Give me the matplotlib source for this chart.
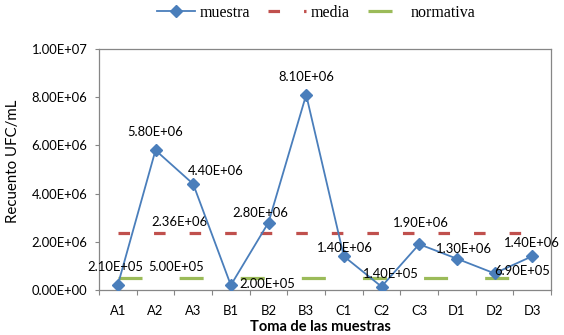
import matplotlib
matplotlib.use("Agg")
import matplotlib.pyplot as plt
import numpy as np
from matplotlib.ticker import FuncFormatter, FixedLocator

plt.rcParams['lines.scale_dashes'] = False

categorias = ["A1", "A2", "A3", "B1", "B2", "B3", "C1", "C2", "C3", "D1", "D2", "D3"]
muestra = [2.1e5, 5.8e6, 4.4e6, 2.0e5, 2.8e6, 8.1e6, 1.4e6, 1.4e5, 1.9e6, 1.3e6, 6.9e5, 1.4e6]
media = 2.36e6
normativa = 5.0e5
etiquetas = ["2.10E+05", "5.80E+06", "4.40E+06", "2.00E+05", "2.80E+06", "8.10E+06",
             "1.40E+06", "1.40E+05", "1.90E+06", "1.30E+06", "6.90E+05", "1.40E+06"]
etiqueta_media = "2.36E+06"
etiqueta_normativa = "5.00E+05"

BLUE = "#4A7EBB"
RED = "#C0504D"
GREEN = "#9BBB59"
GRAY = "#868686"
SANS = "Lato"
SERIF = "Liberation Serif"
FS = 9.4

fig = plt.figure(figsize=(5.64, 3.35), dpi=100)
ax = fig.add_axes([99/564, 1-290/335, (551-99)/564, (290-49)/335])

x = np.arange(len(categorias))
ax.plot(x, muestra, color=BLUE, lw=1.3, marker="D", markersize=6,
        markerfacecolor=BLUE, markeredgecolor=BLUE, label="muestra", zorder=4)
ax.plot(x, np.full(len(x), media), color=RED, lw=2.3,
        linestyle=(0, (8.3, 17.3)), label="media", zorder=3)
ax.plot(x, np.full(len(x), normativa), color=GREEN, lw=2.3,
        linestyle=(0, (17.3, 26.7)), label="normativa", zorder=3)

ax.set_xlim(-0.5, len(x) - 0.5)
ax.set_ylim(0, 1e7)
ax.set_yticks(np.arange(0, 1.0e7 + 1, 2e6))
ax.yaxis.set_major_formatter(FuncFormatter(lambda v, p: f"{v:.2E}"))
ax.set_xticks(x)
ax.set_xticklabels(categorias)
ax.xaxis.set_minor_locator(FixedLocator(np.arange(-0.5, len(x), 1.0)))
ax.tick_params(axis="x", which="major", length=0, pad=10.5, labelsize=FS,
               labelcolor="#000000")
ax.tick_params(axis="x", which="minor", length=3.6, width=0.8, color=GRAY, direction="out")
ax.tick_params(axis="y", length=3, width=0.8, color=GRAY, pad=5.5, labelsize=FS)
for lab in ax.get_xticklabels() + ax.get_yticklabels():
    lab.set_fontfamily(SANS)
for s in ax.spines.values():
    s.set_color(GRAY)
    s.set_linewidth(0.9)

ax.set_ylabel("Recuento UFC/mL", fontfamily=SANS, fontsize=10.8)
ax.yaxis.set_label_coords((20-99)/452, (290-161)/241)

# data labels (offsets in points)
offs = [(-1.5, 13), (0, 13), (16.5, 9.4), (26, 0.7), (-6, 7), (0, 13),
        (1, 6), (6.5, 9.4), (1.5, 15), (5.3, 7), (20, 1.5), (0, 9.4)]
for xi, yi, t, o in zip(x, muestra, etiquetas, offs):
    ax.annotate(t, (xi, yi), xytext=o, textcoords="offset points",
                ha="center", va="center", fontfamily=SANS, fontsize=FS,
                annotation_clip=False, zorder=5)
ax.annotate(etiqueta_media, (1, media), xytext=(17, 8), textcoords="offset points",
            ha="center", va="center", fontfamily=SANS, fontsize=FS)
ax.annotate(etiqueta_normativa, (1, normativa), xytext=(14.8, 8), textcoords="offset points",
            ha="center", va="center", fontfamily=SANS, fontsize=FS)

fig.text(320/564, 1-320/335, "Toma de las muestras", ha="center", va="top",
         fontfamily=SANS, fontweight="bold", fontsize=10.5)

leg = fig.legend(loc="center", bbox_to_anchor=(316/564, 1-13/335), ncol=3,
                 frameon=False, prop={"family": SERIF, "size": 11.5},
                 handlelength=2.4, handletextpad=0.3, columnspacing=1.1)

fig.savefig("out.png", dpi=100)
